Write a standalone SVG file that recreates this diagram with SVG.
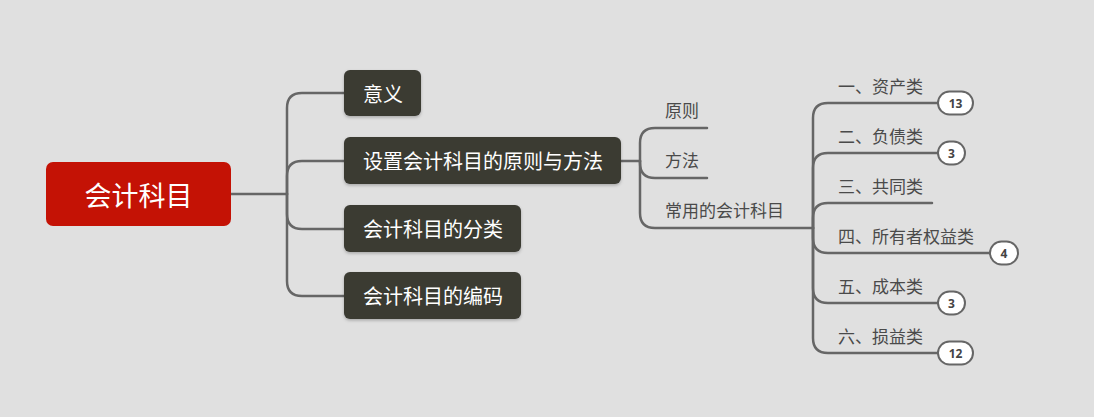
<svg xmlns="http://www.w3.org/2000/svg" width="1094" height="417" viewBox="0 0 1094 417">
<defs>
<filter id="sh" x="-10%" y="-20%" width="120%" height="150%"><feDropShadow dx="0" dy="1.5" stdDeviation="1.5" flood-color="#000" flood-opacity="0.25"/></filter>
<style>
.ln{fill:none;stroke:#666;stroke-width:2.5;stroke-linecap:round}
.nd{fill:#3a3a33;filter:url(#sh)}
.nt{font-family:"Noto Sans CJK SC","Noto Sans",sans-serif;font-size:20px;fill:#fff;dominant-baseline:central}
.lb{font-family:"Noto Sans CJK SC","Noto Sans",sans-serif;font-size:17px;fill:#4a4a4a;dominant-baseline:central}
.bd{fill:#fff;stroke:#666;stroke-width:2}
.bt{font-family:"Open Sans","Noto Sans",sans-serif;font-size:12px;font-weight:bold;fill:#444;text-anchor:middle;dominant-baseline:central}
</style>
</defs>
<rect width="1094" height="417" fill="#e0e0e0"/>
<g id="connectors">
<path class="ln" d="M231,194 H287"/>
<path class="ln" d="M287,194 V108 Q287,93 302,93 H344"/>
<path class="ln" d="M287,194 V176 Q287,161 302,161 H344"/>
<path class="ln" d="M287,194 V214 Q287,229 302,229 H344"/>
<path class="ln" d="M287,194 V281 Q287,296 302,296 H344"/>
<path class="ln" d="M621,161 H640"/>
<path class="ln" d="M640,161 V143 Q640,128 655,128 H707"/>
<path class="ln" d="M640,161 V163 Q640,178 655,178 H707"/>
<path class="ln" d="M640,161 V213 Q640,228 655,228 H813"/>
<path class="ln" d="M813,228 V118 Q813,103 828,103 H938"/>
<path class="ln" d="M813,228 V168 Q813,153 828,153 H938"/>
<path class="ln" d="M813,228 V218 Q813,203 828,203 H932"/>
<path class="ln" d="M813,228 V238 Q813,253 828,253 H990"/>
<path class="ln" d="M813,228 V288 Q813,303 828,303 H938"/>
<path class="ln" d="M813,228 V338 Q813,353 828,353 H938"/>
</g>
<g id="root">
<rect x="46" y="162" width="185" height="64" rx="7" fill="#c41205"/>
<text x="138.5" y="194" text-anchor="middle" font-family="Noto Sans CJK SC, Noto Sans, sans-serif" font-size="27" fill="#fff" dominant-baseline="central">会计科目</text>
</g>
<g id="n-yiyi">
<rect class="nd" x="344" y="70" width="77" height="46" rx="6"/>
<text class="nt" x="363" y="93">意义</text>
</g>
<g id="n-shezhi">
<rect class="nd" x="344" y="137" width="277" height="47" rx="6"/>
<text class="nt" x="363" y="160.5" textLength="240" lengthAdjust="spacing">设置会计科目的原则与方法</text>
</g>
<g id="n-fenlei">
<rect class="nd" x="344" y="205" width="177" height="47" rx="6"/>
<text class="nt" x="363" y="228.5">会计科目的分类</text>
</g>
<g id="n-bianma">
<rect class="nd" x="344" y="272" width="177" height="47" rx="6"/>
<text class="nt" x="363" y="295.5">会计科目的编码</text>
</g>
<g id="n-yuanze"><text class="lb" x="665" y="109">原则</text></g>
<g id="n-fangfa"><text class="lb" x="665" y="159">方法</text></g>
<g id="n-changyong"><text class="lb" x="665" y="209">常用的会计科目</text></g>
<g id="n-zichan">
<text class="lb" x="838" y="85">一、资产类</text>
<rect class="bd" x="938" y="91.5" width="35" height="23" rx="11.5"/>
<text class="bt" x="955.5" y="103">13</text>
</g>
<g id="n-fuzhai">
<text class="lb" x="838" y="135">二、负债类</text>
<rect class="bd" x="938" y="141.5" width="27" height="23" rx="11.5"/>
<text class="bt" x="951.5" y="153">3</text>
</g>
<g id="n-gongtong">
<text class="lb" x="838" y="185">三、共同类</text>
</g>
<g id="n-quanyi">
<text class="lb" x="838" y="235">四、所有者权益类</text>
<rect class="bd" x="990" y="241.5" width="28" height="23" rx="11.5"/>
<text class="bt" x="1004" y="253">4</text>
</g>
<g id="n-chengben">
<text class="lb" x="838" y="285">五、成本类</text>
<rect class="bd" x="938" y="291.5" width="27" height="23" rx="11.5"/>
<text class="bt" x="951.5" y="303">3</text>
</g>
<g id="n-sunyi">
<text class="lb" x="838" y="335">六、损益类</text>
<rect class="bd" x="938" y="341.5" width="35" height="23" rx="11.5"/>
<text class="bt" x="955.5" y="353">12</text>
</g>
</svg>
